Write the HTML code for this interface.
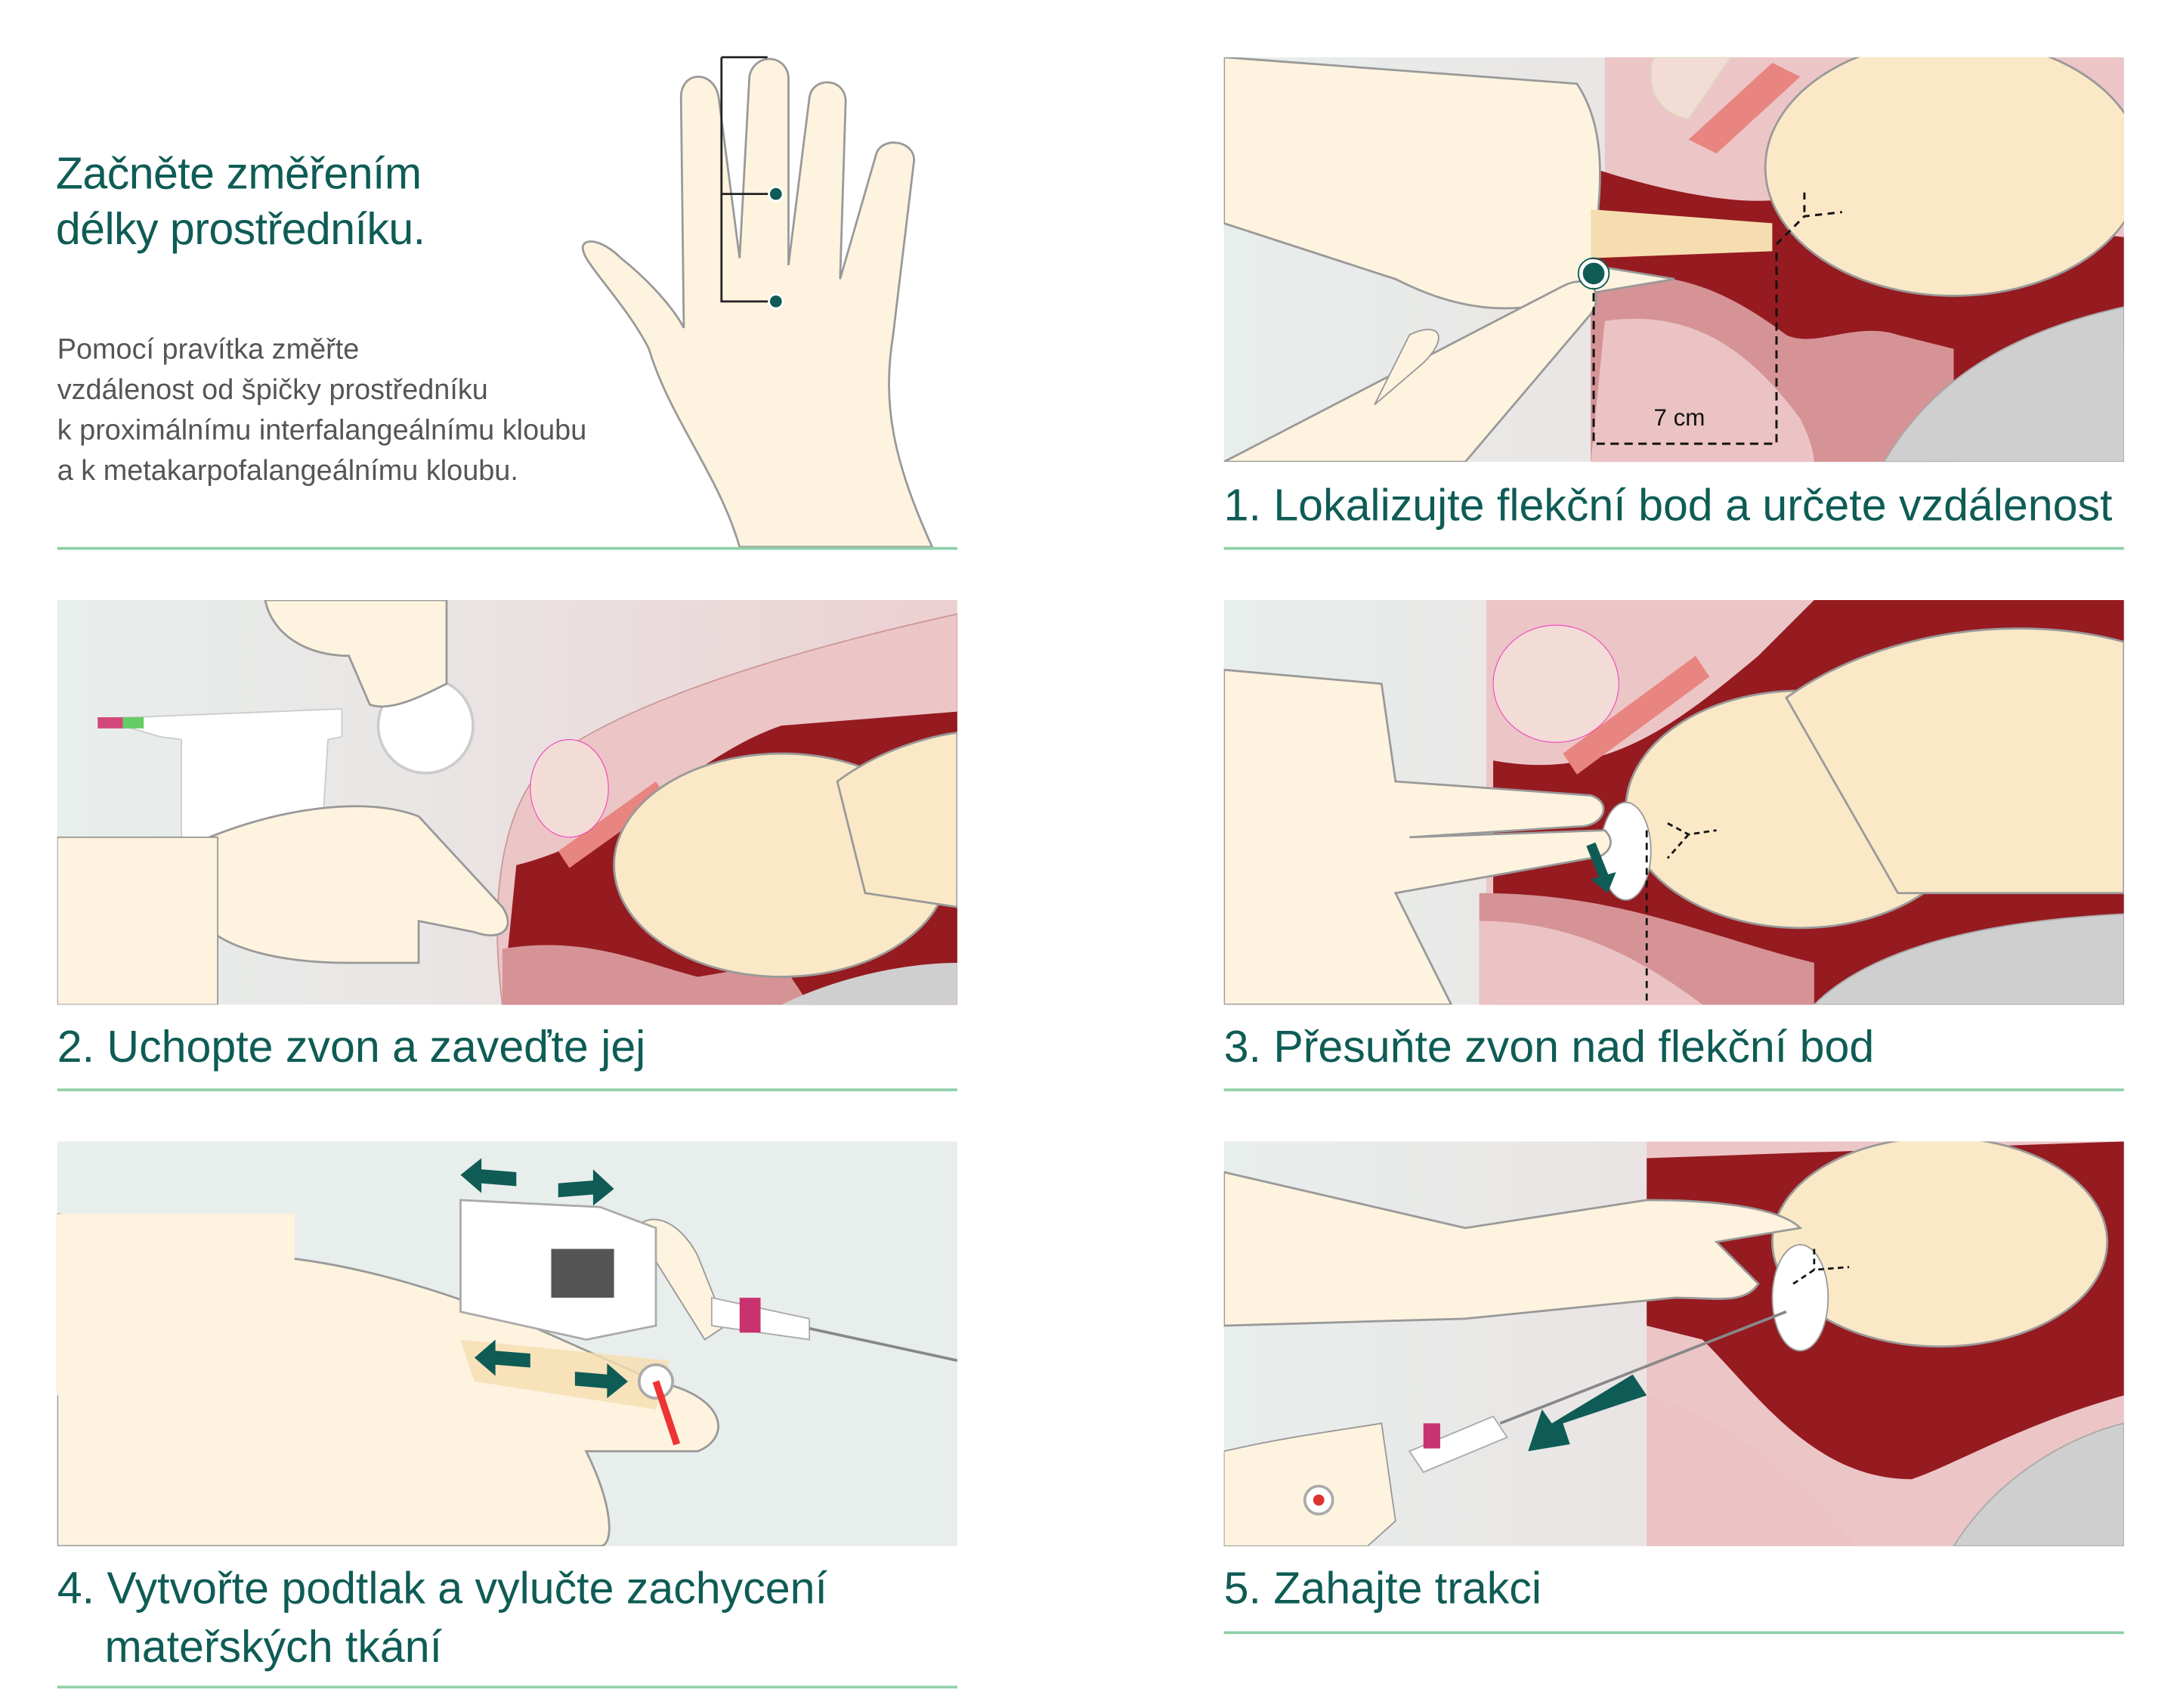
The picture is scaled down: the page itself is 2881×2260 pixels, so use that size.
<!DOCTYPE html>
<html><head><meta charset="utf-8"><style>
html,body{margin:0;padding:0;background:#fff}
svg{display:block}
text{font-family:"Liberation Sans",sans-serif}
</style></head><body>
<svg width="2881" height="2260" viewBox="0 0 1560 1224" preserveAspectRatio="none" xmlns="http://www.w3.org/2000/svg">
<defs>
<linearGradient id="bg" x1="0" x2="1" y1="0" y2="0"><stop offset="0" stop-color="#e8eeec"/><stop offset="0.4" stop-color="#e9e6e5"/><stop offset="1" stop-color="#eccfd1"/></linearGradient>
<clipPath id="c1"><rect x="877" y="41" width="645" height="290"/></clipPath>
<clipPath id="c2"><rect x="41" y="430" width="645" height="290"/></clipPath>
<clipPath id="c3"><rect x="877" y="430" width="645" height="290"/></clipPath>
<clipPath id="c4"><rect x="41" y="818" width="645" height="290"/></clipPath>
<clipPath id="c5"><rect x="877" y="818" width="645" height="290"/></clipPath>
</defs>

<!-- Intro -->
<text x="40" y="135" font-size="32" fill="#0e5c55" letter-spacing="-0.3">Začněte změřením</text>
<text x="40" y="175" font-size="32" fill="#0e5c55" letter-spacing="-0.3">délky prostředníku.</text>
<g font-size="20.5" fill="#555">
<text x="41" y="257">Pomocí pravítka změřte</text>
<text x="41" y="286">vzdálenost od špičky prostředníku</text>
<text x="41" y="315">k proximálnímu interfalangeálnímu kloubu</text>
<text x="41" y="344">a k metakarpofalangeálnímu kloubu.</text>
</g>
<!-- hand -->
<path d="M530 392 C515 340 480 300 465 250 C450 220 420 190 418 180 C415 170 430 170 445 185 C470 205 485 225 490 235 L488 70 C488 50 512 50 515 70 L530 185 L537 55 C540 38 563 38 565 55 L565 190 L580 70 C582 55 605 55 606 72 L602 200 L628 110 C632 98 655 100 655 115 L640 240 C632 290 640 330 668 392 Z" fill="#fdf3df" stroke="#999" stroke-width="1.5"/>
<path d="M517 41 L550 41 M517 41 L517 216 L556 216 M517 139 L556 139" stroke="#222" stroke-width="1.5" fill="none"/>
<circle cx="556" cy="139" r="5" fill="#0e5c55" stroke="#fff" stroke-width="1.5"/>
<circle cx="556" cy="216" r="5" fill="#0e5c55" stroke="#fff" stroke-width="1.5"/>
<line x1="41" y1="393" x2="686" y2="393" stroke="#8fd0a8" stroke-width="2"/>

<!-- Panel 1 -->
<g clip-path="url(#c1)">
<rect x="877" y="41" width="645" height="290" fill="url(#bg)"/>
<path d="M1150 41 L1522 41 L1522 331 L1150 331 Z" fill="#ecc5c7"/>
<path d="M1185 41 C1180 60 1185 80 1210 85 L1240 41 Z" fill="#f3dcd6" stroke="#ddb" stroke-width="1"/>
<path d="M1210 100 L1270 45 L1290 55 L1230 110 Z" fill="#e88580"/>
<path d="M1140 120 C1200 140 1260 150 1290 140 L1522 170 L1522 250 C1450 260 1400 300 1380 331 L1140 331 Z" fill="#951b20"/>
<path d="M1140 200 C1200 190 1240 210 1280 240 C1300 250 1330 230 1360 240 L1400 250 L1400 331 L1140 331 Z" fill="#d59396"/>
<path d="M1150 230 C1220 220 1260 260 1290 300 C1300 320 1300 331 1300 331 L1140 331 Z" fill="#ebc3c5"/>
<path d="M1350 331 C1380 280 1430 240 1522 220 L1522 331 Z" fill="#cfcfcf" stroke="#aaa"/>
<ellipse cx="1400" cy="120" rx="135" ry="92" fill="#fae8c6" stroke="#999" stroke-width="1.5"/>
<path d="M877 41 L1130 60 C1150 90 1150 130 1140 190 L1200 200 L1140 210 C1080 230 1040 220 1000 200 L877 160 Z" fill="#fdf3df" stroke="#999" stroke-width="1.5"/>
<path d="M1140 150 L1270 160 L1270 180 L1140 185 Z" fill="#f6ddb0"/>
<path d="M877 331 L1120 205 C1140 195 1150 210 1140 225 L1050 331 Z" fill="#fdf3df" stroke="#999" stroke-width="1.5"/>
<path d="M1010 240 C1030 230 1040 240 1020 260 L985 290 Z" fill="#fdf3df" stroke="#999"/>
<path d="M1293 138 L1293 155 M1273 175 L1293 155 L1320 152" stroke="#111" stroke-width="1.6" stroke-dasharray="5 4" fill="none"/>
<path d="M1142 200 L1142 318 L1273 318 L1273 180" stroke="#111" stroke-width="1.6" stroke-dasharray="6 4" fill="none"/>
<text x="1185" y="305" font-size="17" fill="#111">7 cm</text>
<circle cx="1142" cy="196" r="9" fill="#0e5c55" stroke="#fff" stroke-width="2.5"/>
<circle cx="1142" cy="196" r="11" fill="none" stroke="#0e5c55" stroke-width="1"/>
</g>
<text x="877" y="373" font-size="32" fill="#0e5c55">1. Lokalizujte flekční bod a určete vzdálenost</text>
<line x1="877" y1="393" x2="1522" y2="393" stroke="#8fd0a8" stroke-width="2"/>

<!-- Panel 2 -->
<g clip-path="url(#c2)">
<rect x="41" y="430" width="645" height="290" fill="url(#bg)"/>
<path d="M360 720 C350 640 360 570 400 540 C450 505 550 470 686 440 L686 720 Z" fill="#ecc5c7" stroke="#c99" stroke-width="1"/>
<path d="M370 620 C450 600 500 540 560 520 L686 510 L686 720 L360 720 Z" fill="#951b20"/>
<path d="M360 680 C420 670 460 690 500 700 L560 690 L580 720 L360 720 Z" fill="#d59396"/>
<path d="M400 610 L470 560 L478 572 L408 622 Z" fill="#e88580"/>
<ellipse cx="408" cy="565" rx="28" ry="35" fill="#f3dcd6" stroke="#e4b" stroke-width="0.6"/>
<ellipse cx="560" cy="620" rx="120" ry="80" fill="#fae8c6" stroke="#999" stroke-width="1.5"/>
<path d="M600 560 C640 530 686 525 686 525 L686 650 L620 640 Z" fill="#fae8c6" stroke="#999" stroke-width="1.5"/>
<path d="M560 720 C600 700 650 690 686 690 L686 720 Z" fill="#cfcfcf"/>
<path d="M70 515 L245 508 L245 528 L235 530 L230 610 L130 610 L130 530 L115 528 Z" fill="#fff" stroke="#ccc"/>
<rect x="70" y="514" width="18" height="8" fill="#d3487b"/><rect x="88" y="514" width="15" height="8" fill="#6c6"/>
<text x="160" y="605" font-size="14" fill="#3a3">IMIV</text>
<circle cx="305" cy="520" r="34" fill="#fff" stroke="#ccc" stroke-width="2"/>
<path d="M190 430 L320 430 L320 490 C300 500 280 510 265 505 L250 470 C220 470 195 455 190 430 Z" fill="#fdf3df" stroke="#999" stroke-width="1.5"/>
<path d="M150 600 C200 580 260 570 300 585 L360 650 C370 665 360 675 340 668 L300 660 L300 690 L250 690 C200 690 170 680 155 670 Z" fill="#fdf3df" stroke="#999" stroke-width="1.5"/>
<rect x="41" y="600" width="115" height="120" fill="#fdf3df" stroke="#999"/>
</g>
<text x="41" y="761" font-size="32" fill="#0e5c55">2. Uchopte zvon a zaveďte jej</text>
<line x1="41" y1="781" x2="686" y2="781" stroke="#8fd0a8" stroke-width="2"/>

<!-- Panel 3 -->
<g clip-path="url(#c3)">
<rect x="877" y="430" width="645" height="290" fill="url(#bg)"/>
<path d="M1065 430 L1522 430 L1522 720 L1065 720 Z" fill="#ecc5c7"/>
<path d="M1070 545 C1150 560 1200 520 1260 470 L1300 430 L1522 430 L1522 720 L1070 720 Z" fill="#951b20"/>
<path d="M1060 640 C1160 640 1220 670 1300 690 L1300 720 L1060 720 Z" fill="#d59396"/>
<path d="M1060 660 C1130 660 1180 690 1220 720 L1060 720 Z" fill="#ebc3c5"/>
<path d="M1120 540 L1215 470 L1225 485 L1130 555 Z" fill="#e88580"/>
<ellipse cx="1115" cy="490" rx="45" ry="42" fill="#f3dcd6" stroke="#e4b" stroke-width="0.6"/>
<path d="M1300 720 C1340 680 1420 660 1522 655 L1522 720 Z" fill="#cfcfcf" stroke="#aaa"/>
<ellipse cx="1290" cy="580" rx="125" ry="85" fill="#fae8c6" stroke="#999" stroke-width="1.5"/>
<path d="M1280 500 C1350 450 1450 440 1522 460 L1522 640 L1360 640 Z" fill="#fae8c6" stroke="#999" stroke-width="1.5"/>
<ellipse cx="1165" cy="610" rx="18" ry="35" fill="#fff" stroke="#999"/>
<path d="M877 480 L990 490 L1000 560 L1140 570 C1155 575 1150 590 1135 592 L1010 600 L1150 595 C1160 605 1150 615 1140 615 L1000 640 L1040 720 L877 720 Z" fill="#fdf3df" stroke="#999" stroke-width="1.5"/>
<path d="M1140 605 L1150 630" stroke="#0e5c55" stroke-width="7"/>
<path d="M1140 630 L1158 625 L1152 640 Z" fill="#0e5c55"/>
<path d="M1180 595 L1180 720" stroke="#111" stroke-width="1.5" stroke-dasharray="5 4"/>
<path d="M1195 590 L1210 598 L1230 595 M1210 598 L1195 615" stroke="#111" stroke-width="1.5" stroke-dasharray="4 3" fill="none"/>
</g>
<text x="877" y="761" font-size="32" fill="#0e5c55">3. Přesuňte zvon nad flekční bod</text>
<line x1="877" y1="781" x2="1522" y2="781" stroke="#8fd0a8" stroke-width="2"/>

<!-- Panel 4 -->
<g clip-path="url(#c4)">
<rect x="41" y="818" width="645" height="290" fill="#e8eeec"/>
<path d="M41 870 L190 900 C260 905 330 930 380 950 L470 990 C520 1000 525 1030 500 1040 L420 1040 C440 1080 440 1108 430 1108 L41 1108 Z" fill="#fdf3df" stroke="#999" stroke-width="1.5"/>
<rect x="41" y="870" width="170" height="130" fill="#fdf3df"/>
<path d="M330 960 L480 975 L470 1010 L340 990 Z" fill="#f6ddb0" opacity="0.8"/>
<path d="M455 880 C470 865 490 880 500 900 L520 950 L505 960 Z" fill="#fdf3df" stroke="#999"/>
<path d="M330 860 L430 865 L470 880 L470 950 L420 960 L330 940 Z" fill="#fff" stroke="#aaa" stroke-width="1.5"/>
<rect x="395" y="895" width="45" height="35" fill="#555"/>
<circle cx="470" cy="990" r="12" fill="#fff" stroke="#aaa" stroke-width="2"/>
<path d="M470 990 L485 1035" stroke="#e33" stroke-width="5"/>
<path d="M510 930 L580 945 L580 960 L510 950 Z" fill="#fff" stroke="#aaa"/>
<rect x="530" y="930" width="15" height="25" fill="#c8336f"/>
<path d="M580 952 L686 975" stroke="#888" stroke-width="2"/>
<g fill="#0e5c55">
<path d="M370 840 L345 838 L345 830 L330 842 L345 855 L345 848 L370 850 Z"/>
<path d="M400 848 L425 846 L425 838 L440 852 L425 864 L425 856 L400 858 Z"/>
<path d="M380 970 L355 968 L355 960 L340 973 L355 986 L355 978 L380 980 Z"/>
<path d="M412 983 L435 985 L435 977 L450 990 L435 1002 L435 995 L412 993 Z"/>
</g>
</g>
<text x="41" y="1149" font-size="32" fill="#0e5c55">4. Vytvořte podtlak a vylučte zachycení</text>
<text x="75" y="1191" font-size="32" fill="#0e5c55">mateřských tkání</text>
<line x1="41" y1="1209" x2="686" y2="1209" stroke="#8fd0a8" stroke-width="2"/>

<!-- Panel 5 -->
<g clip-path="url(#c5)">
<rect x="877" y="818" width="645" height="290" fill="url(#bg)"/>
<path d="M1180 818 L1522 818 L1522 1108 L1180 1108 Z" fill="#ecc5c7"/>
<path d="M1180 830 L1522 818 L1522 1000 C1450 1020 1400 1050 1370 1060 C1300 1060 1260 1000 1220 960 L1180 950 Z" fill="#951b20"/>
<path d="M1180 1000 C1250 1020 1300 1070 1330 1108 L1180 1108 Z" fill="#ebc3c5"/>
<path d="M1400 1108 C1430 1060 1480 1030 1522 1020 L1522 1108 Z" fill="#cfcfcf" stroke="#aaa"/>
<ellipse cx="1390" cy="890" rx="120" ry="75" fill="#fae8c6" stroke="#999" stroke-width="1.5"/>
<ellipse cx="1290" cy="930" rx="20" ry="38" fill="#fff" stroke="#999"/>
<path d="M877 840 L1050 880 L1180 860 C1250 860 1280 870 1290 880 L1230 890 L1260 920 C1250 935 1230 930 1200 930 L1050 945 L877 950 Z" fill="#fdf3df" stroke="#999" stroke-width="1.5"/>
<path d="M1010 1040 L1070 1015 L1080 1030 L1020 1055 Z" fill="#fff" stroke="#aaa"/>
<rect x="1020" y="1020" width="12" height="18" fill="#c8336f"/>
<path d="M1075 1020 L1280 940" stroke="#888" stroke-width="2"/>
<path d="M877 1040 C920 1030 960 1025 990 1020 L1000 1090 L980 1108 L877 1108 Z" fill="#fdf3df" stroke="#999"/>
<circle cx="945" cy="1075" r="10" fill="#fff" stroke="#aaa" stroke-width="2"/>
<circle cx="945" cy="1075" r="4" fill="#d33"/>
<path d="M1170 985 L1180 1000 L1120 1020 L1125 1035 L1095 1040 L1105 1010 L1112 1020 Z" fill="#0e5c55"/>
<path d="M1300 895 L1300 910 M1285 920 L1300 910 L1325 908" stroke="#111" stroke-width="1.5" stroke-dasharray="4 3" fill="none"/>
</g>
<text x="877" y="1149" font-size="32" fill="#0e5c55">5. Zahajte trakci</text>
<line x1="877" y1="1170" x2="1522" y2="1170" stroke="#8fd0a8" stroke-width="2"/>
</svg>
</body></html>
